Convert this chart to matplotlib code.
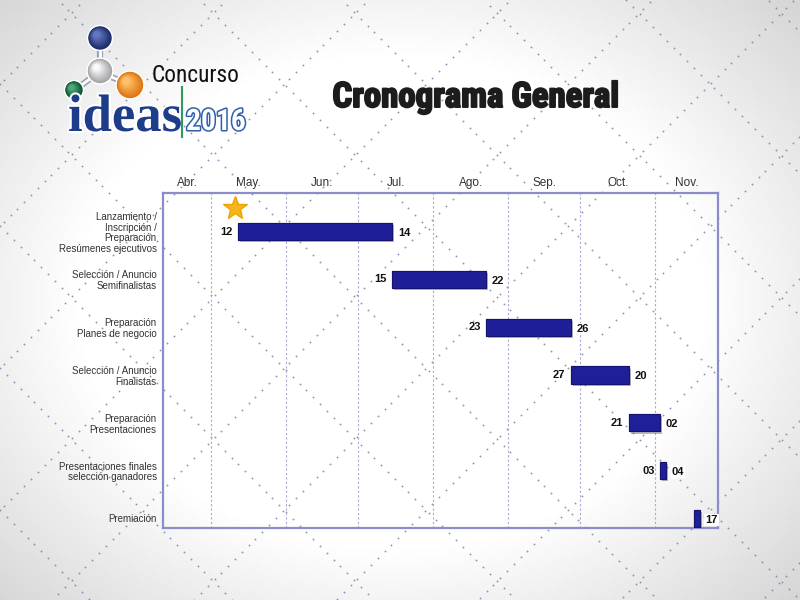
import os
import datetime as dt

import numpy as np
import matplotlib
matplotlib.use('Agg')
import matplotlib.pyplot as plt
import matplotlib.dates as mdates
import matplotlib.patheffects as pe
from matplotlib import font_manager as fm
from matplotlib.patches import Circle


# datos del cronograma
tasks = ['Lanzamiento /\nInscripción /\nPreparación\nResúmenes ejecutivos',
         'Selección / Anuncio\nSemifinalistas',
         'Preparación\nPlanes de negocio',
         'Selección / Anuncio\nFinalistas',
         'Preparación\nPresentaciones',
         'Presentaciones finales\nselección ganadores',
         'Premiación']
starts = ['2016-05-12', '2016-07-15', '2016-08-23', '2016-09-27',
          '2016-10-21', '2016-11-03', '2016-11-17']
ends = ['2016-07-14', '2016-08-22', '2016-09-26', '2016-10-20',
        '2016-11-02', '2016-11-04', '2016-11-17']
month_names = ['Abr.', 'May.', 'Jun.', 'Jul.', 'Ago.', 'Sep.', 'Oct.', 'Nov.']
month_first = ['2016-04-01', '2016-05-01', '2016-06-01', '2016-07-01',
               '2016-08-01', '2016-09-01', '2016-10-01', '2016-11-01',
               '2016-12-01']

plt.rcParams['font.family'] = ['Liberation Sans', 'DejaVu Sans']


def pick_narrow(bold):
    # busca una fuente condensada instalada
    want = ['liberationsansnarrow', 'robotocondensed', 'notosans-condensed',
            'dejavusanscondensed', 'opensanscondensed', 'opensans_condensed']
    files = [f.fname for f in fm.fontManager.ttflist]
    for w in want:
        for fn in files:
            base = os.path.basename(fn).lower().replace(' ', '')
            if w not in base or 'italic' in base or 'oblique' in base:
                continue
            if bold and ('bold' in base and 'semi' not in base and 'extra' not in base):
                return fm.FontProperties(fname=fn)
            if not bold and not any(t in base for t in ('bold', 'light', 'thin', 'medium', 'black')):
                return fm.FontProperties(fname=fn)
    return fm.FontProperties(family=['Liberation Sans', 'DejaVu Sans'],
                             weight='bold' if bold else 'normal')


NARROW = pick_narrow(False)
NARROW_B = pick_narrow(True)


def d(s):
    return mdates.date2num(dt.datetime.strptime(s, '%Y-%m-%d'))


x0, x1 = d('2016-04-11'), d('2016-11-27')

fig = plt.figure(figsize=(8, 6), dpi=100)

# fondo: degradado gris en las esquinas + patron de puntos en diagonal
bg = fig.add_axes([0, 0, 1, 1], zorder=0)
yy, xx = np.mgrid[0:600:4, 0:800:4]
r = np.sqrt(((xx - 390) / 420.0) ** 2 + ((yy - 300) / 330.0) ** 2)
shade = 1 - 0.17 * np.clip((r - 0.75) / 0.6, 0, 1)
bg.imshow(np.dstack([shade] * 3), extent=(0, 800, 600, 0), zorder=0, aspect='auto')

px, py = [], []
xs = np.arange(-20, 820, 6.8)
for k in range(-8, 12):
    c1 = 58 + 142 * k
    px.append(xs); py.append(xs - c1)
    c2 = 84 + 142 * k
    px.append(xs + 3.4); py.append(c2 - xs - 3.4)
px = np.concatenate(px); py = np.concatenate(py)
m = (px > 0) & (px < 800) & (py > 0) & (py < 600)
bg.scatter(px[m], py[m], s=1.8, color='#737ca4', alpha=0.8, linewidths=0, zorder=1)
bg.set_xlim(0, 800)
bg.set_ylim(600, 0)
bg.axis('off')


# logo
def ball(cx, cy, rad, dark, light):
    bg.add_patch(Circle((cx, cy), rad + 1.5, color='white', zorder=3))
    c_dark = np.array(matplotlib.colors.to_rgb(dark))
    c_light = np.array(matplotlib.colors.to_rgb(light))
    n = 14
    for i in range(n):
        f = i / n
        col = c_dark * (1 - f) + c_light * f
        rr = rad * (1 - 0.85 * f)
        bg.add_patch(Circle((cx - 0.35 * rad * f, cy - 0.35 * rad * f), rr,
                            color=col, zorder=4))


for (xa, ya, xb, yb) in [(100, 46, 100, 62), (91, 78, 79, 87), (109, 76, 121, 81)]:
    bg.plot([xa, xb], [ya, yb], color='#9aa4b8', lw=4.5, zorder=2, solid_capstyle='butt')
    bg.plot([xa, xb], [ya, yb], color='white', lw=2, zorder=2.5, solid_capstyle='butt')
ball(100, 38, 11, '#1a2a6a', '#6a7ec6')
ball(100, 71, 11.5, '#a4a4a8', '#ffffff')
ball(74, 90, 8, '#0c5232', '#56b080')
ball(130, 85, 12.5, '#e07410', '#ffc870')

t_conc = bg.text(152, 82, 'Concurso', fontproperties=NARROW, fontsize=17,
                 color='#111111', va='baseline', zorder=5)
t_ideas = bg.text(68, 131, 'ideas', fontsize=38, family=['Liberation Serif', 'DejaVu Serif'],
                  weight='bold', color='#1d3c8a', va='baseline', zorder=5,
                  path_effects=[pe.withStroke(linewidth=3, foreground='white')])
bg.plot([182, 182], [87, 137], color='#2f9a5c', lw=1.5, zorder=5)
t_year = bg.text(186, 130, '2016', fontproperties=NARROW_B, fontsize=25, color='white',
                 va='baseline', zorder=5,
                 path_effects=[pe.withStroke(linewidth=2.2, foreground='#2f5fae')])

# titulo
t_title = fig.text(476 / 800, 1 - 107 / 600, 'Cronograma General', ha='center',
                   va='baseline', fontproperties=NARROW_B, fontsize=25, color='#1c1c1c',
                   zorder=5, path_effects=[pe.withStroke(linewidth=1.4, foreground='#1c1c1c')])

# grafico de Gantt
ax = fig.add_axes([163 / 800, 1 - 528 / 600, (718 - 163) / 800, (528 - 193) / 600], zorder=2)
ax.set_facecolor('none')

ypos = np.arange(len(tasks))
lefts = np.array([d(s) for s in starts])
rights = np.array([d(e) for e in ends]) + 1
# ancho minimo visible para las tareas de uno o dos dias
widths = np.maximum(rights - lefts, 2.5)
ax.barh(ypos, widths, left=lefts, height=0.36, color='#1f1f98',
        edgecolor='#14146c', linewidth=0.8, zorder=3,
        path_effects=[pe.withSimplePatchShadow(offset=(1.5, -1.5), shadow_rgbFace='#777777',
                                               alpha=0.5), pe.Normal()])

for i in range(len(tasks)):
    if starts[i] != ends[i]:
        ax.annotate(starts[i][-2:], xy=(lefts[i], ypos[i]), xytext=(-4, 0),
                    textcoords='offset points', ha='right', va='center',
                    fontsize=8, fontweight='bold', color='#111111', zorder=4)
    ax.annotate(ends[i][-2:], xy=(lefts[i] + widths[i], ypos[i]), xytext=(4, -1),
                textcoords='offset points', ha='left', va='center',
                fontsize=8, fontweight='bold', color='#111111', zorder=4,
                bbox=dict(boxstyle='square,pad=0.1', fc='white', ec='none'))

# estrella del lanzamiento
ax.plot(lefts[0] - 1, -0.5, marker='*', ms=18, color='#f7b51c', mec='#eea400',
        zorder=4, clip_on=False)

firsts = [d(s) for s in month_first]
mids = [(max(firsts[i], x0) + min(firsts[i + 1], x1)) / 2 for i in range(len(month_names))]
ax.set_xticks(mids)
ax.set_xticklabels(month_names)
ax.set_xticks(firsts[1:-1], minor=True)
ax.xaxis.tick_top()
ax.tick_params(axis='x', which='both', length=0, pad=3, labelsize=8.5, labelcolor='#333333')
ax.grid(which='minor', axis='x', linestyle=(0, (2, 2)), color='#a9a9d2', lw=0.8)
ax.grid(which='major', visible=False)

ax.set_yticks(ypos)
ax.set_yticklabels(tasks)
ax.tick_params(axis='y', length=0, pad=4.5, labelsize=7, labelcolor='#333333')
for lab in ax.get_yticklabels():
    lab.set_linespacing(1.08)

ax.set_xlim(x0, x1)
ax.set_ylim(6.2, -0.81)
for sp in ax.spines.values():
    sp.set_color('#8c8ccc')
    sp.set_linewidth(1.6)

# ajustar el ancho de los textos del encabezado al de la imagen original
fig.canvas.draw()
ren = fig.canvas.get_renderer()
for t, w in [(t_title, 287), (t_conc, 88), (t_ideas, 114), (t_year, 60)]:
    cur = t.get_window_extent(ren).width
    t.set_fontsize(t.get_fontsize() * w / cur)

fig.savefig('out.png', dpi=100)
print('ok')
